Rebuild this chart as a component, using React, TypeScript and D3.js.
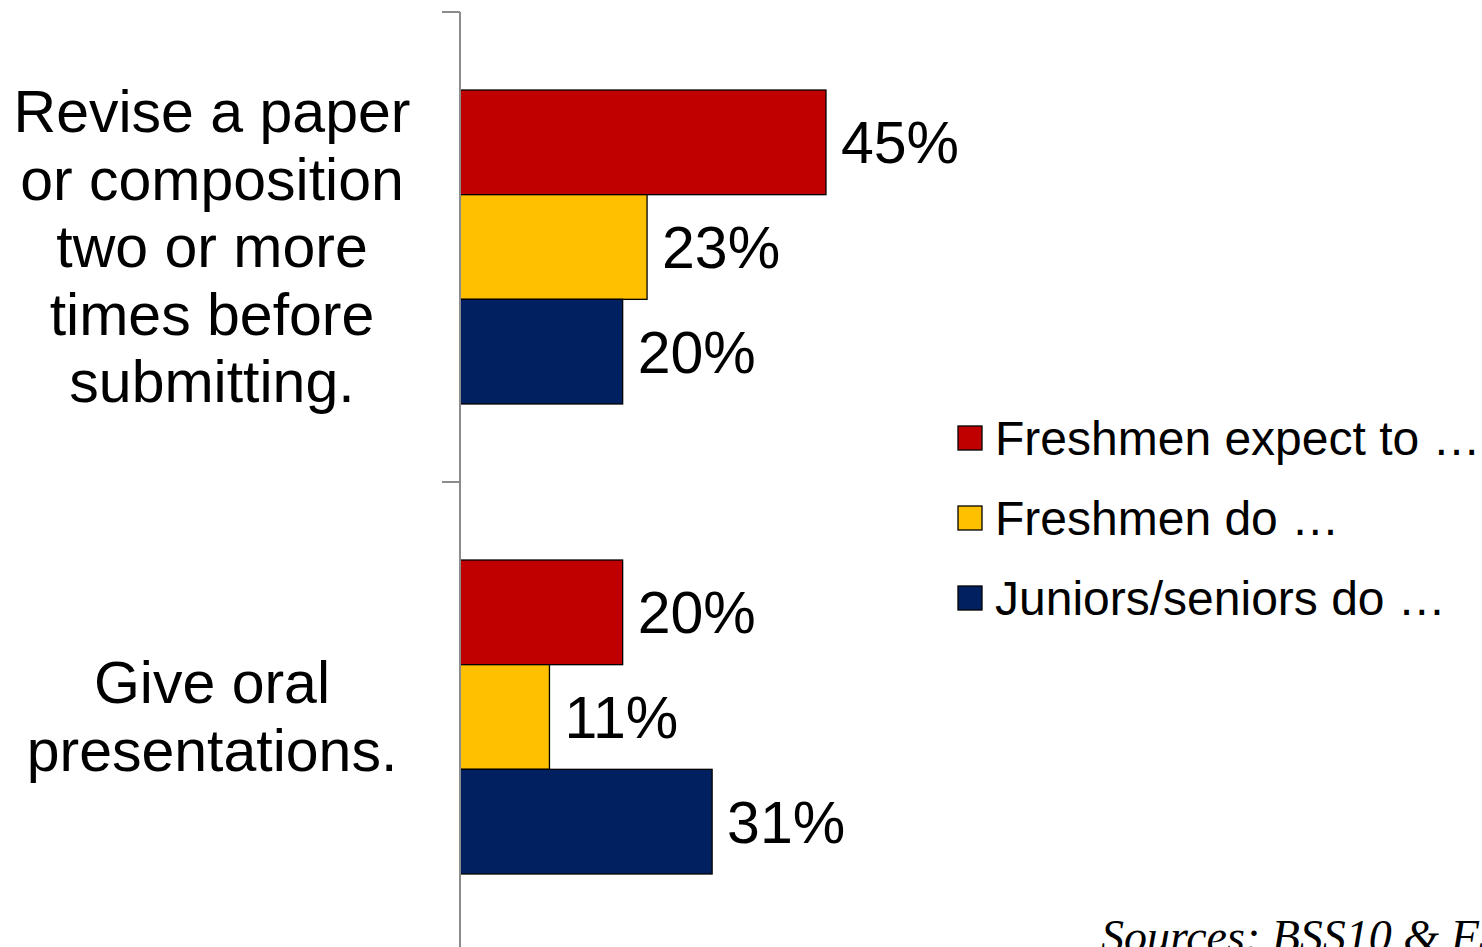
import React, { useEffect, useRef } from "react";
import * as d3 from "d3";

const categories = ["revise", "oral"];
const categoryLabels: string[][] = [
  ["Revise a paper", "or composition", "two or more", "times before", "submitting."],
  ["Give oral", "presentations."],
];
const seriesNames = ["Freshmen expect to …", "Freshmen do …", "Juniors/seniors do …"];
const seriesColors = ["#C00000", "#FFC000", "#002060"];
const freshmenExpect = [0.45, 0.20];
const freshmenDo = [0.23, 0.11];
const juniorsSeniorsDo = [0.20, 0.31];
const seriesValues = [freshmenExpect, freshmenDo, juniorsSeniorsDo];
const sourceText = "Sources: BSS10 & FSSE10";

const W = 1482;
const H = 947;

export default function App() {
  const ref = useRef<SVGSVGElement | null>(null);

  useEffect(() => {
    const svg = d3.select(ref.current);
    svg.selectAll("*").remove();

    const font = "'Liberation Sans', Arial, sans-serif";
    const x = d3.scaleLinear().domain([0, 1]).range([460, 460 + 813.3]);
    const y = d3.scaleBand<string>().domain(categories).range([12, 952]).padding(0);
    const bw = y.bandwidth();
    const inner = d3
      .scaleBand<number>()
      .domain(d3.range(seriesNames.length))
      .range([bw * 0.166, bw * 0.834])
      .padding(0);

    const g = svg.append("g");

    // bars
    categories.forEach((cat, ci) => {
      const y0 = y(cat)!;
      seriesValues.forEach((vals, si) => {
        const v = vals[ci];
        const by = y0 + inner(si)!;
        g.append("rect")
          .attr("x", x(0))
          .attr("y", by)
          .attr("width", x(v) - x(0))
          .attr("height", inner.bandwidth())
          .attr("fill", seriesColors[si])
          .attr("stroke", "#000")
          .attr("stroke-width", 1.3);
        g.append("text")
          .attr("x", x(v) + 15)
          .attr("y", by + inner.bandwidth() / 2 + 21)
          .attr("font-family", font)
          .attr("font-size", 59)
          .attr("fill", "#000")
          .text(d3.format(".0%")(v));
      });
    });

    // axis
    g.append("line")
      .attr("x1", x(0))
      .attr("x2", x(0))
      .attr("y1", 12)
      .attr("y2", 952)
      .attr("stroke", "#8c8c8c")
      .attr("stroke-width", 2);
    const ticks = [...categories.map((c) => y(c)!), 952];
    ticks.forEach((t) => {
      g.append("line")
        .attr("x1", x(0) - 18)
        .attr("x2", x(0))
        .attr("y1", t)
        .attr("y2", t)
        .attr("stroke", "#8c8c8c")
        .attr("stroke-width", 2);
    });

    // category labels
    categories.forEach((cat, ci) => {
      const cy = y(cat)! + bw / 2;
      const lines = categoryLabels[ci];
      const t = g
        .append("text")
        .attr("font-family", font)
        .attr("font-size", 59)
        .attr("text-anchor", "middle")
        .attr("fill", "#000");
      lines.forEach((ln, i) => {
        t.append("tspan")
          .attr("x", 212)
          .attr("y", cy + 20 + (i - (lines.length - 1) / 2) * 67.5)
          .text(ln);
      });
    });

    // legend
    seriesNames.forEach((name, si) => {
      const cy = 438 + si * 80;
      g.append("rect")
        .attr("x", 958)
        .attr("y", cy - 12)
        .attr("width", 24)
        .attr("height", 24)
        .attr("fill", seriesColors[si])
        .attr("stroke", "#000")
        .attr("stroke-width", 1.3);
      g.append("text")
        .attr("x", 995)
        .attr("y", cy + 17)
        .attr("font-family", font)
        .attr("font-size", 48)
        .attr("fill", "#000")
        .text(name);
    });

    // source (clipped by the right and bottom edges, as in the reference)
    g.append("text")
      .attr("x", 1101)
      .attr("y", 952)
      .attr("font-family", "'Liberation Serif', 'Times New Roman', serif")
      .attr("font-style", "italic")
      .attr("font-size", 46)
      .attr("fill", "#000")
      .text(sourceText);
  }, []);

  return (
    <svg
      ref={ref}
      width={W}
      height={H}
      style={{ position: "absolute", left: 0, top: 0, background: "#fff", overflow: "hidden" }}
    />
  );
}
